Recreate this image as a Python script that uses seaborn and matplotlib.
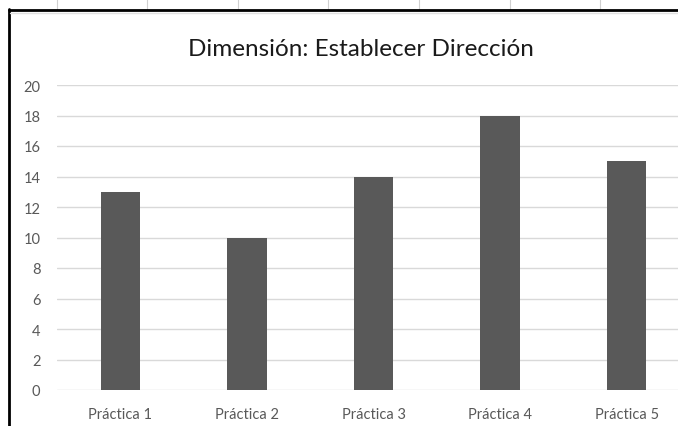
import matplotlib
matplotlib.use("Agg")
import matplotlib.pyplot as plt
import seaborn as sns
import pandas as pd
from matplotlib.lines import Line2D

categories = ["Práctica 1", "Práctica 2", "Práctica 3", "Práctica 4", "Práctica 5"]
values = [13, 10, 14, 18, 15]
yticks = [0, 2, 4, 6, 8, 10, 12, 14, 16, 18, 20]
title = "Dimensión: Establecer Dirección"

sns.set_theme(style="white")
plt.rcParams["font.family"] = ["Lato", "DejaVu Sans"]

W, H = 678, 427
fig = plt.figure(figsize=(W / 100, H / 100), dpi=100)
fig.patch.set_facecolor("white")

# plot area in pixel coords (left, top, right, bottom)
L, T, R, B = 57, 86, 690, 391
ax = fig.add_axes([L / W, 1 - B / H, (R - L) / W, (B - T) / H])

df = pd.DataFrame({"cat": categories, "val": values})
sns.barplot(data=df, x="cat", y="val", color="#595959", saturation=1,
            width=0.31, ax=ax)
for p in ax.patches:
    p.set_edgecolor("none")

ax.set_xlim(-0.5, 4.5)
ax.set_ylim(0, 20)
ax.set_yticks(yticks)
ax.set_yticklabels([str(t) for t in yticks])
ax.set_xlabel("")
ax.set_ylabel("")
ax.grid(axis="y", color="#d9d9d9", linewidth=1)
ax.set_axisbelow(True)
for s in ax.spines.values():
    s.set_visible(False)
ax.tick_params(axis="both", length=0, labelsize=10.5, labelcolor="#595959")
ax.tick_params(axis="y", pad=12)
ax.tick_params(axis="x", pad=12)
ax.set_facecolor("none")

fig.text(361 / W, 1 - 49 / H, title, ha="center", va="center",
         fontsize=17.5, color="#1a1a1a")

# spreadsheet / chart-frame decorations
for x in [57, 147, 238, 328, 419, 510, 600]:
    fig.add_artist(Line2D([x / W, x / W], [1 - 0 / H, 1 - 11 / H],
                          color="#d0d0d0", linewidth=0.8))
fig.add_artist(Line2D([9 / W, 9 / W], [0, 1 - 10 / H], color="black", linewidth=2))
fig.add_artist(Line2D([9 / W, 1], [1 - 11 / H, 1 - 11 / H], color="black", linewidth=2))
fig.add_artist(Line2D([10 / W, 1], [1 - 14 / H, 1 - 14 / H], color="#e0e0e0", linewidth=1))

fig.savefig("out.png", dpi=100)
